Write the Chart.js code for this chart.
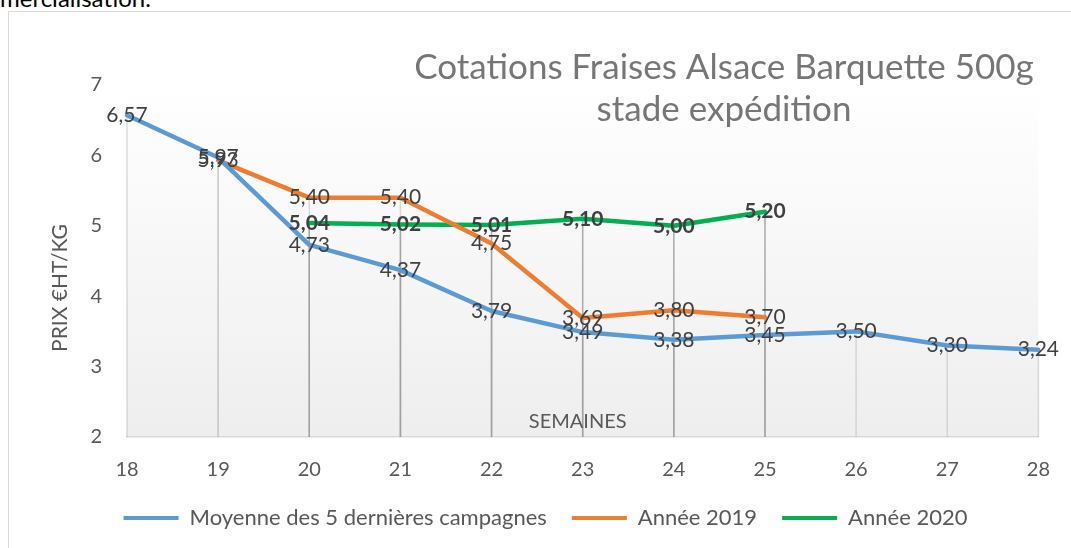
<!DOCTYPE html>
<html>
<head>
<meta charset="utf-8">
<script src="https://cdn.jsdelivr.net/npm/chart.js@4.4.1/dist/chart.umd.min.js"></script>
<style>
  html, body { margin: 0; padding: 0; background: #fff; overflow: hidden; }
  #wrap { position: relative; width: 1071px; height: 548px; overflow: hidden; }
  #above { position: absolute; left: 0; top: -14px; font: 24px Lato; line-height: 24px; color: #000; white-space: nowrap; }
  #frame { position: absolute; left: 8px; top: 11px; width: 1100px; height: 600px;
           border-left: 1.5px solid #d9d9d9; border-top: 1.5px solid #d9d9d9; }
  canvas { position: absolute; left: 0; top: 0; }
</style>
</head>
<body>
<div id="wrap">
  <div id="above">mercialisation.</div>
  <div id="frame"></div>
  <canvas id="chart" width="1071" height="548"></canvas>
</div>
<script>
// weeks on the x axis
const weeks = ['18', '19', '20', '21', '22', '23', '24', '25', '26', '27', '28'];

// prices (€ HT / kg)
const moyenne = [6.57, 5.97, 4.73, 4.37, 3.79, 3.49, 3.38, 3.45, 3.50, 3.30, 3.24];
const annee2019 = [null, 5.93, 5.40, 5.40, 4.75, 3.69, 3.80, 3.70, null, null, null];
const annee2020 = [null, null, 5.04, 5.02, 5.01, 5.10, 5.00, 5.20, null, null, null];

const seriesNames = ['Moyenne des 5 dernières campagnes', 'Année 2019', 'Année 2020'];
const yTicks = [2, 3, 4, 5, 6, 7];

const FONT = 'Lato';
const textGrey = '#595959';

// plot area gradient
const plotBackground = {
  id: 'plotBackground',
  beforeDraw(chart) {
    const { ctx, chartArea } = chart;
    const g = ctx.createLinearGradient(0, chartArea.top, 0, chartArea.bottom);
    g.addColorStop(0, '#ffffff');
    g.addColorStop(1, '#eeeeee');
    ctx.save();
    ctx.fillStyle = g;
    ctx.fillRect(chartArea.left, chartArea.top, chartArea.right - chartArea.left, chartArea.bottom - chartArea.top);
    ctx.restore();
  },
};

// excel style drop lines
const dropLines = {
  id: 'dropLines',
  beforeDatasetsDraw(chart) {
    const { ctx, chartArea } = chart;
    ctx.save();
    chart.data.datasets.forEach((ds, i) => {
      const meta = chart.getDatasetMeta(i);
      ctx.strokeStyle = ds.dropColor;
      ctx.lineWidth = 1.5;
      meta.data.forEach((pt, j) => {
        if (ds.data[j] === null) return;
        ctx.beginPath();
        ctx.moveTo(pt.x, pt.y);
        ctx.lineTo(pt.x, chartArea.bottom);
        ctx.stroke();
      });
    });
    ctx.restore();
  },
};

// values on the points
const valueLabels = {
  id: 'valueLabels',
  afterDatasetsDraw(chart) {
    const { ctx } = chart;
    ctx.save();
    ctx.textAlign = 'center';
    ctx.textBaseline = 'middle';
    ctx.fillStyle = '#404040';
    chart.data.datasets.forEach((ds, i) => {
      const meta = chart.getDatasetMeta(i);
      ctx.font = `${ds.labelBold ? 'bold ' : ''}21px ${FONT}`;
      meta.data.forEach((pt, j) => {
        const v = ds.data[j];
        if (v === null) return;
        ctx.fillText(v.toFixed(2).replace('.', ','), pt.x, pt.y);
      });
    });
    ctx.restore();
  },
};

// title, y axis title and the "SEMAINES" note inside the plot
const texts = {
  id: 'texts',
  afterDraw(chart) {
    const { ctx, chartArea } = chart;
    ctx.save();
    ctx.textAlign = 'center';
    ctx.textBaseline = 'middle';
    ctx.fillStyle = '#767676';
    ctx.font = `35px ${FONT}`;
    ctx.fillText('Cotations Fraises Alsace Barquette 500g', 724, 68);
    ctx.fillText('stade expédition', 724, 110);

    ctx.fillStyle = textGrey;
    ctx.font = `20px ${FONT}`;
    ctx.fillText('SEMAINES', (chartArea.left + chartArea.right) / 2 - 5, chartArea.bottom - 15);

    ctx.font = `21px ${FONT}`;
    ctx.translate(chartArea.left - 67, (chartArea.top + chartArea.bottom) / 2 + 27);
    ctx.rotate(-Math.PI / 2);
    ctx.fillText('PRIX €HT/KG', 0, 0);
    ctx.restore();
  },
};

const ctx = document.getElementById('chart').getContext('2d');

const chart = new Chart(ctx, {
  type: 'line',
  data: {
    labels: weeks,
    datasets: [
      {
        label: seriesNames[0],
        data: moyenne,
        borderColor: '#5b9bd5',
        backgroundColor: '#5b9bd5',
        dropColor: 'rgba(190,190,190,0.55)',
      },
      {
        label: seriesNames[1],
        data: annee2019,
        borderColor: '#ed7d31',
        backgroundColor: '#ed7d31',
        dropColor: 'rgba(190,190,190,0.55)',
      },
      {
        label: seriesNames[2],
        data: annee2020,
        borderColor: '#00b050',
        backgroundColor: '#00b050',
        dropColor: 'rgba(150,150,150,0.8)',
        labelBold: true,
      },
    ],
  },
  plugins: [plotBackground, dropLines, valueLabels, texts],
  options: {
    responsive: false,
    animation: false,
    elements: {
      line: { borderWidth: 4.5, tension: 0, borderCapStyle: 'round', borderJoinStyle: 'round' },
      point: { radius: 0 },
    },
    layout: { padding: { top: 85, right: 31, bottom: 9, left: 51 } },
    scales: {
      x: {
        offset: false,
        grid: { display: false, drawTicks: false },
        border: { display: true, color: '#d9d9d9', width: 1.5 },
        ticks: { color: textGrey, font: { family: FONT, size: 20 }, padding: 21 },
        afterFit(scale) { scale.height = 45; },
      },
      y: {
        min: 2,
        max: 7,
        grid: { display: false, drawTicks: false },
        border: { display: false },
        afterBuildTicks(scale) { scale.ticks = yTicks.map((v) => ({ value: v })); },
        ticks: { color: textGrey, font: { family: FONT, size: 20 }, padding: 25 },
        afterFit(scale) { scale.width = 76; },
      },
    },
    plugins: {
      tooltip: { enabled: false },
      legend: {
        position: 'bottom',
        labels: {
          color: textGrey,
          font: { family: FONT, size: 22 },
          boxWidth: 55,
          boxHeight: 4,
          padding: 25,
          generateLabels(chart) {
            return chart.data.datasets.map((ds, i) => ({
              text: ds.label,
              fillStyle: ds.borderColor,
              strokeStyle: ds.borderColor,
              lineWidth: 0,
              fontColor: textGrey,
              datasetIndex: i,
            }));
          },
        },
      },
    },
  },
});
</script>
</body>
</html>
